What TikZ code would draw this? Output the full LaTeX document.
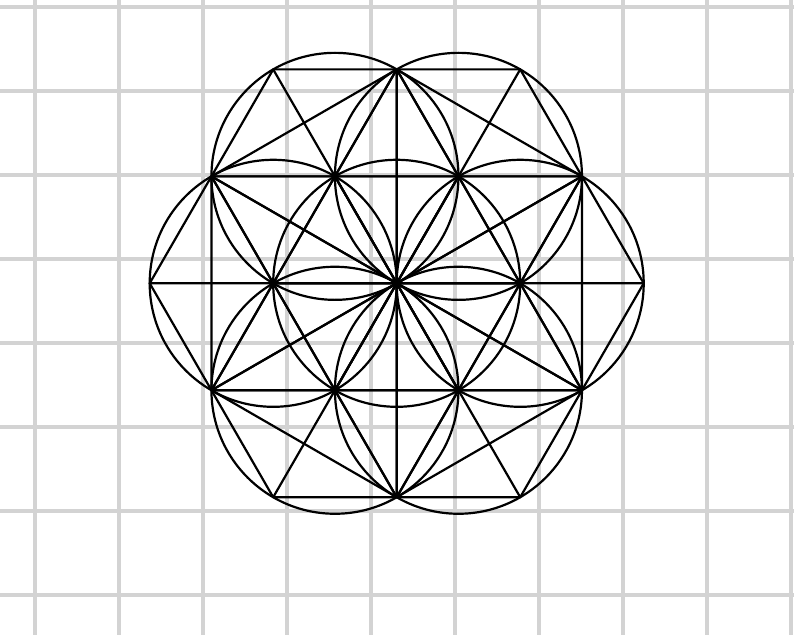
\documentclass[tikz,border=0pt]{standalone}
\definecolor{gridgray}{HTML}{D3D3D3}
\tikzset{
  gridline/.style={draw=gridgray, line width=4.2pt},
  pat/.style={draw=black, line width=2.2pt, line join=round, line cap=round}
}
\begin{document}
\begin{tikzpicture}[x=1pt,y=-1pt]
\useasboundingbox (0,0) rectangle (794,635);
\fill[white] (0,0) rectangle (794,635);
% background grid
\foreach \gx in {34.7,118.7,202.7,286.7,370.7,454.7,538.7,622.7,706.7,790.7}
  \draw[gridline] (\gx,0) -- (\gx,635);
\foreach \gy in {7,91,175,259,343,427,511,595}
  \draw[gridline] (0,\gy) -- (794,\gy);
% pattern
\begin{scope}[shift={(396.7,283.3)}, x=123.5pt, y=123.5pt]
  \coordinate (O) at (0,0);
  \foreach \a in {0,60,...,300} {
    \coordinate (P\a) at (\a:1);
    \coordinate (R\a) at (\a:2);
  }
  \foreach \a in {30,90,...,330}
    \coordinate (Q\a) at (\a:1.7320508);
  \draw[pat] (O) circle[radius=1];
  \foreach \a in {0,60,...,300} {
    \pgfmathtruncatemacro\m{mod(\a+300,360)}
    \pgfmathtruncatemacro\p{mod(\a+60,360)}
    \pgfmathtruncatemacro\qm{mod(\a+330,360)}
    \pgfmathtruncatemacro\qp{mod(\a+30,360)}
    \draw[pat] (P\a) circle[radius=1];
    \draw[pat] (P\a) -- (O) (P\a) -- (P\m) (P\a) -- (P\p)
               (P\a) -- (Q\qm) (P\a) -- (Q\qp) (P\a) -- (R\a);
    \draw[pat] (O) -- (P\m) -- (Q\qm) -- (R\a) -- (Q\qp) -- (P\p) -- cycle;
    \draw[pat] (O) -- (Q\qm) -- (Q\qp) -- cycle;
  }
\end{scope}
\end{tikzpicture}
\end{document}
